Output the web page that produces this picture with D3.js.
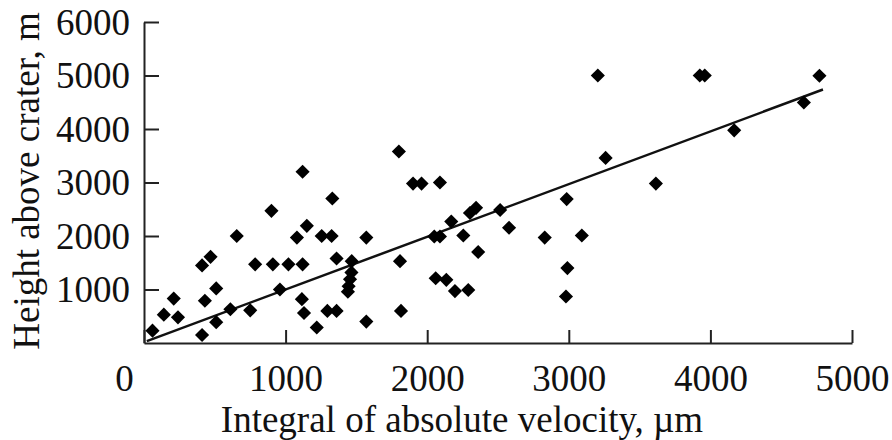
<!DOCTYPE html>
<html>
<head>
<meta charset="utf-8">
<script src="https://cdn.jsdelivr.net/npm/d3@7"></script>
<style>
  body { margin: 0; background: #fff; }
  svg text { font-family: "Liberation Serif", "Times New Roman", serif; fill: #111; }
  .axis path, .axis line { stroke: #222; stroke-width: 2px; }
</style>
</head>
<body>
<div id="chartdiv"></div>
<script>
// integral of absolute velocity (um) vs height above crater (m)
const velocity = [60, 140, 210, 240, 410, 410, 470, 430, 510, 510, 610, 655, 750, 785, 900, 910, 960, 1020,
  1080, 1120, 1120, 1150, 1115, 1130, 1220, 1255, 1325, 1330, 1295, 1360, 1360, 1440, 1445, 1455, 1465, 1467,
  1570, 1570, 1800, 1808, 1815, 1900, 1960, 2090, 2050, 2090, 2060, 2135, 2170, 2196, 2290, 2255, 2302, 2345,
  2360, 2515, 2578, 2830, 2985, 2990, 2980, 3092, 3205, 3260, 3615, 3925, 3960, 4168, 4660, 4770];
const height = [230, 530, 830, 480, 150, 1450, 1610, 790, 1020, 390, 630, 2000, 610, 1470, 2470, 1470, 1000, 1470,
  1970, 3200, 1470, 2190, 820, 560, 290, 2000, 2000, 2700, 600, 600, 1580, 960, 1060, 1190, 1320, 1530,
  1970, 400, 3580, 1530, 600, 2980, 2980, 3000, 1990, 1990, 1210, 1180, 2270, 970, 990, 2010, 2430, 2527,
  1700, 2485, 2155, 1970, 2690, 1400, 870, 2010, 5000, 3460, 2980, 5000, 5000, 3975, 4495, 4995];

// regression line endpoints
const fitX = [20, 4795];
const fitY = [35, 4738];

const xTicks = [0, 1000, 2000, 3000, 4000, 5000];
const yTicks = [1000, 2000, 3000, 4000, 5000, 6000];

const W = 892, H = 440;
let svg = d3.select("#chartdiv").append("svg")
  .attr("width", W).attr("height", H);

let xscale = d3.scaleLinear().domain([0, 5000]).range([144, 852]);
let yscale = d3.scaleLinear().domain([0, 6000]).range([343, 22]);

// x axis, ticks pointing up into the plot
let xg = svg.append("g")
  .attr("class", "axis")
  .attr("transform", `translate(0, ${yscale(0)})`)
  .call(d3.axisBottom(xscale).tickValues(xTicks).tickFormat(d3.format("d"))
    .tickSizeInner(-13).tickSizeOuter(0).tickPadding(36));
xg.selectAll("text")
  .style("font-size", "37px")
  .attr("dy", "0.33em")
  .attr("dx", d => d == 0 ? -20 : 0);

// y axis, ticks pointing right
let yg = svg.append("g")
  .attr("class", "axis")
  .attr("transform", `translate(${xscale(0)}, 0)`)
  .call(d3.axisLeft(yscale).tickValues(yTicks).tickFormat(d3.format("d"))
    .tickSizeInner(-15).tickSizeOuter(0).tickPadding(14));
yg.selectAll("text")
  .style("font-size", "37px")
  .attr("dy", "0.33em");

// axis titles
svg.append("text")
  .attr("x", 462)
  .attr("y", 432)
  .style("font-size", "37px")
  .style("text-anchor", "middle")
  .text("Integral of absolute velocity, \u00b5m");

svg.append("text")
  .attr("transform", "translate(39, 181)rotate(-90)")
  .style("font-size", "37px")
  .style("text-anchor", "middle")
  .text("Height above crater, m");

// trend line
svg.append("line")
  .attr("x1", xscale(fitX[0])).attr("y1", yscale(fitY[0]))
  .attr("x2", xscale(fitX[1])).attr("y2", yscale(fitY[1]))
  .attr("stroke", "#111")
  .attr("stroke-width", 2.5);

// diamonds
let diamond = d3.symbol().type(d3.symbolSquare).size(100);
svg.selectAll(".pt")
  .data(velocity)
  .enter()
  .append("path")
  .attr("class", "pt")
  .attr("d", diamond)
  .attr("transform", (d, i) => `translate(${xscale(d)}, ${yscale(height[i])})rotate(45)`)
  .attr("fill", "#000");
</script>
</body>
</html>
